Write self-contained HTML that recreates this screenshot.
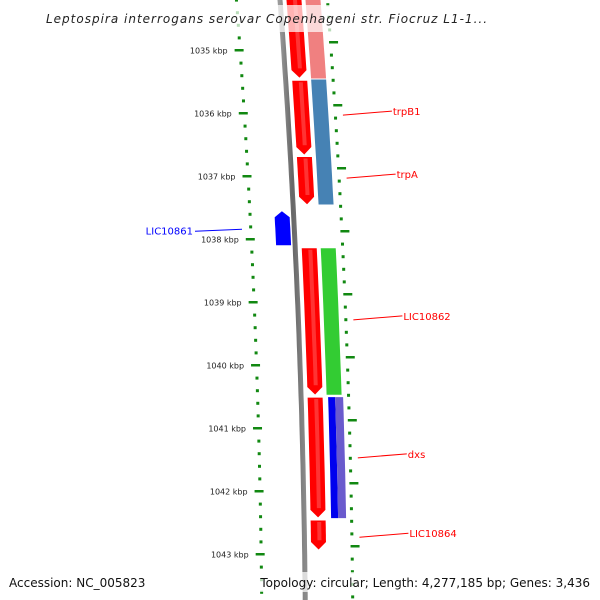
<!DOCTYPE html>
<html><head><meta charset="utf-8"><style>
html,body{margin:0;padding:0;background:#fff;}
svg{display:block;font-family:"DejaVu Sans","Liberation Sans",sans-serif;}
</style></head><body>
<svg id="map" width="600" height="600" viewBox="0 0 600 600" xmlns="http://www.w3.org/2000/svg">
<defs>
<linearGradient id="gBack" x1="0" x2="1" y1="0" y2="0"><stop offset="0" stop-color="#9a9a9a"/><stop offset="0.5" stop-color="#666"/><stop offset="1" stop-color="#8a8a8a"/></linearGradient>
</defs>
<g id="layer"></g>
<rect x="0" y="5" width="600" height="27" fill="#fff" fill-opacity="0.7"/>
<text x="267" y="23" text-anchor="middle" font-size="12" font-style="italic" fill="#222" letter-spacing="1">Leptospira interrogans serovar Copenhageni str. Fiocruz L1-1...</text>
<rect x="0" y="572" width="600" height="20" fill="#fff" fill-opacity="0.7"/>
<text x="9" y="587" font-size="12" fill="#111">Accession: NC_005823</text>
<text x="590" y="587" text-anchor="end" font-size="12" fill="#111">Topology: circular; Length: 4,277,185 bp; Genes: 3,436</text>
</svg>
<script>
const tickKbp=[1035,1036,1037,1038,1039,1040,1041,1042,1043];
const tickLabels=["1035 kbp","1036 kbp","1037 kbp","1038 kbp","1039 kbp","1040 kbp","1041 kbp","1042 kbp","1043 kbp"];
const geneStart=[1034.0,1035.48,1036.69,1038.14,1040.51,1042.46];
const geneEnd=[1035.45,1036.67,1037.46,1040.48,1042.43,1042.94];
const pairStart=[1034.0,1035.46,1038.14,1040.51];
const pairEnd=[1035.46,1037.46,1040.48,1042.43];
const pairColor=["#f08080","#4682b4","#33cc33","split"];
const revStart=[1037.56];
const revEnd=[1038.1];
const labelNames=["trpB1","trpA","LIC10862","dxs","LIC10864"];
const labelKbp=[1035.97,1036.97,1039.22,1041.41,1042.67];
const NS="http://www.w3.org/2000/svg";
const layer=document.getElementById('layer');
function Y(k){return 50+(k-1035)*63;}
function B(y){return 280+0.075*y-0.000055*y*y;}
function mk(tag,attrs){const e=document.createElementNS(NS,tag);for(const k in attrs)e.setAttribute(k,attrs[k]);layer.appendChild(e);return e;}
function band(y1,y2,o1,o2,arrow){
  const steps=[];const n=8;
  for(let i=0;i<=n;i++)steps.push(y1+(y2-y1)*i/n);
  let L=steps.map(y=>[B(y)+o1,y]);let R=steps.map(y=>[B(y)+o2,y]);
  let pts=[];
  if(arrow==='down'){
    const yt=y2-8;
    L=L.filter(p=>p[1]<=yt);R=R.filter(p=>p[1]<=yt);
    L.push([B(yt)+o1,yt]);R.push([B(yt)+o2,yt]);
    pts=L.concat([[B(y2)+(o1+o2)/2,y2]]).concat(R.reverse());
  }else if(arrow==='up'){
    const yt=y1+6;
    L=L.filter(p=>p[1]>=yt);R=R.filter(p=>p[1]>=yt);
    L.unshift([B(yt)+o1,yt]);R.unshift([B(yt)+o2,yt]);
    pts=[[B(y1)+(o1+o2)/2,y1]].concat(R).concat(L.reverse());
  }else pts=L.concat(R.reverse());
  return pts.map(p=>p[0].toFixed(1)+','+p[1].toFixed(1)).join(' ');
}
let bb=[];for(let y=-5;y<=605;y+=10)bb.push([B(y),y]);
let bp=mk('polyline',{points:bb.map(p=>p[0].toFixed(1)+','+p[1]).join(' '),fill:'none',stroke:'url(#gBack)','stroke-width':5});


for(let k=1034;k<=1044;k+=0.2){
  const y=Y(k);if(y<-5||y>605)continue;
  const major=Math.abs(k-Math.round(k))<0.01;
  const x=B(y)-45;
  const t=mk('rect',{x:major?x-4:x,y:y-1,width:major?9:3,height:major?2.5:3,fill:'#118811'});
  
  
  const y2=y-8,x2=B(y2)+47;
  const t2=mk('rect',{x:x2-1,y:y2-1,width:major?9:3,height:major?2.5:3,fill:'#118811'});
  
  
}
tickKbp.forEach((k,i)=>{
  const y=Y(k);
  const t=mk('text',{x:B(y)-56,y:y+3.5,'text-anchor':'end','font-size':8,fill:'#222'});
  t.textContent=tickLabels[i];
  
  
});
pairStart.forEach((s,i)=>{
  const y1=Math.max(Y(s),-5),y2=Y(pairEnd[i]);
  if(pairColor[i]==='split'){
    let a=mk('polygon',{points:band(y1,y2,27,34,null),fill:'#0000ee'});
    
    
    let b=mk('polygon',{points:band(y1,y2,34,42,null),fill:'#6a5acd'});
    
    
  }else{
    let a=mk('polygon',{points:band(y1,y2,25,41,null),fill:pairColor[i],stroke:'#fff','stroke-width':1});
    
    
  }
});
geneStart.forEach((s,i)=>{
  const y1=Math.max(Y(s),-5),y2=Y(geneEnd[i]);
  const p=mk('polygon',{points:band(y1,y2,6,22,'down'),fill:'#ff0000',stroke:'#fff','stroke-width':1});
  
  
  const h=mk('polygon',{points:band(y1+2,y2-10,13,17,null),fill:'#ff6666','fill-opacity':0.5});
  
  
});
revStart.forEach((s,i)=>{
  const y1=Y(s),y2=Y(revEnd[i]);
  const p=mk('polygon',{points:band(y1,y2,-19,-4,'up'),fill:'#0000ff'});
  
  
  const l=mk('line',{x1:195,y1:(y1+y2)/2+3,x2:242,y2:(y1+y2)/2+1,stroke:'#0000ff','stroke-width':1});
  
  
  const t=mk('text',{x:193,y:(y1+y2)/2+6,'text-anchor':'end','font-size':10,fill:'#0000ff'});
  t.textContent='LIC10861';
  
  
});
labelNames.forEach((n,i)=>{
  const y=Y(labelKbp[i]);
  const x0=B(y+4)+55;
  const l=mk('line',{x1:x0,y1:y+4,x2:x0+49,y2:y,stroke:'#ff0000','stroke-width':1});
  
  
  const t=mk('text',{x:x0+50,y:y+4,'font-size':10,fill:'#ff0000'});
  t.textContent=n;
  
  
});
</script>
</body></html>
